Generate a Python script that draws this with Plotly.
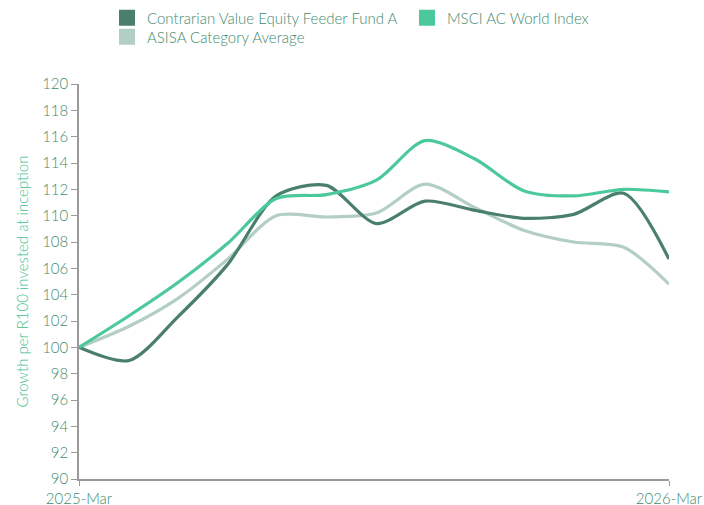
import plotly.graph_objects as go

months = ["2025-03-01", "2025-04-01", "2025-05-01", "2025-06-01", "2025-07-01", "2025-08-01",
          "2025-09-01", "2025-10-01", "2025-11-01", "2025-12-01", "2026-01-01", "2026-02-01", "2026-03-01"]
fund = [100, 99.0, 102.3, 106.3, 111.5, 112.3, 109.4, 111.1, 110.4, 109.8, 110.1, 111.7, 106.7]
msci = [100, 102.4, 104.9, 107.9, 111.3, 111.6, 112.7, 115.7, 114.3, 111.9, 111.5, 112.0, 111.8]
asisa = [100, 101.6, 103.7, 106.7, 110.0, 109.9, 110.2, 112.4, 110.6, 108.9, 108.0, 107.6, 104.8]
x_tick_vals = ["2025-03-01", "2026-03-01"]
x_tick_text = ["2025-Mar", "2026-Mar"]
y_ticks = list(range(90, 121, 2))

names = ["Contrarian Value Equity Feeder Fund A", "MSCI AC World Index", "ASISA Category Average"]
colors = ["#4a7f6b", "#4cc99b", "#b3cec3"]
series = [fund, msci, asisa]
legend_ids = ["legend", "legend2", "legend3"]

FONT = "Lato"
TXT = "#3f8a6e"
TITLE = "#3fbf8c"

fig = go.Figure()
# draw order: light, fund, msci
for idx in [2, 0, 1]:
    fig.add_trace(go.Scatter(x=months, y=series[idx], mode="lines", name=names[idx],
                             line=dict(color=colors[idx], width=3.2, shape="spline", smoothing=0.8),
                             showlegend=False))
for idx in [0, 1, 2]:
    fig.add_trace(go.Scatter(x=[None], y=[None], mode="markers", name=names[idx],
                             marker=dict(symbol="square", size=17, color=colors[idx]),
                             showlegend=True, legend=legend_ids[idx]))

W, H = 704, 505
ml, mr, mt, mb = 79, 35, 84, 26
ph = H - mt - mb
pw = W - ml - mr

def lx(px):
    return (px - ml) / pw

def ly(py):
    return 1 + (mt - py) / ph

legend_common = dict(orientation="h", xanchor="left", yanchor="middle",
                     font=dict(family=FONT, size=15, color=TXT, weight=300),
                     itemsizing="trace", bgcolor="rgba(0,0,0,0)")

fig.update_layout(
    width=W, height=H,
    margin=dict(l=ml, r=mr, t=mt, b=mb, autoexpand=False),
    plot_bgcolor="white", paper_bgcolor="white",
    font=dict(family=FONT, size=15, color=TXT, weight=300),
    legend=dict(x=lx(107), y=ly(18), **legend_common),
    legend2=dict(x=lx(407), y=ly(18), **legend_common),
    legend3=dict(x=lx(107), y=ly(37), **legend_common),
    xaxis=dict(type="date", range=["2025-03-01", "2026-03-01"], tickvals=x_tick_vals,
               ticktext=x_tick_text, showgrid=False, showline=True, linecolor="#9a9a9a",
               linewidth=1.5, ticks="outside", ticklen=5, tickcolor="#9a9a9a",
               ticklabeloverflow="allow",
               tickfont=dict(family=FONT, size=15, color=TXT, weight=300), zeroline=False),
    yaxis=dict(range=[90, 120], tickvals=y_ticks, showgrid=False, showline=True,
               linecolor="#9a9a9a", linewidth=1.5, ticks="outside", ticklen=6,
               tickcolor="#9a9a9a", tickfont=dict(family=FONT, size=15, color=TXT, weight=300),
               zeroline=False,
               title=dict(text="Growth per R100 invested at inception",
                          font=dict(family=FONT, size=15, color=TITLE, weight=300), standoff=10)),
)

fig.write_html("out.html", config={"displayModeBar": False},
               post_script="document.body.style.margin='0';document.body.style.overflow='hidden';")
